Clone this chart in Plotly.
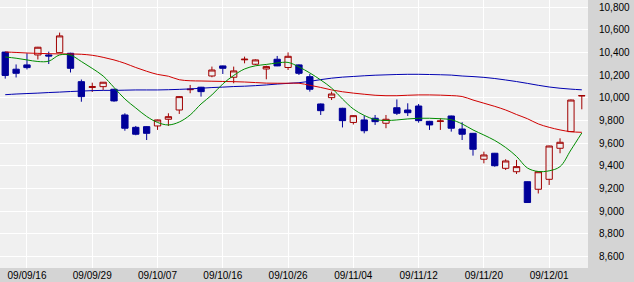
import plotly.graph_objects as go

dates = ["09/09/14","09/09/15","09/09/16","09/09/17","09/09/18","09/09/24","09/09/25","09/09/28","09/09/29","09/09/30",
         "09/10/01","09/10/02","09/10/05","09/10/06","09/10/07","09/10/08","09/10/09","09/10/13","09/10/14","09/10/15",
         "09/10/16","09/10/19","09/10/20","09/10/21","09/10/22","09/10/23","09/10/26","09/10/27","09/10/28","09/10/29",
         "09/10/30","09/11/02","09/11/04","09/11/05","09/11/06","09/11/09","09/11/10","09/11/11","09/11/12","09/11/13",
         "09/11/16","09/11/17","09/11/18","09/11/19","09/11/20","09/11/24","09/11/25","09/11/26","09/11/27","09/11/30",
         "09/12/01","09/12/02","09/12/03","09/12/04"]

opens = [10404,10253,10291,10379,10379,10399,10394,10143,10092,10099,10076,9849,9740,9746,9752,9811,9893,10072,10094,10193,
         10282,10182,10336,10297,10255,10341,10268,10291,10187,9946,10002,9908,9783,9805,9820,9776,9913,9893,9928,9793,
         9792,9840,9725,9687,9458,9511,9378,9348,9260,9193,9281,9555,9702,10017]
highs = [10408,10295,10394,10450,10408,10576,10398,10162,10134,10140,10079,9864,9752,9750,9808,9864,10015,10114,10097,10276,
         10285,10276,10364,10340,10284,10370,10401,10295,10211,9950,10055,9912,9846,9843,9849,9849,9986,9952,9946,9797,
         9820,9843,9785,9690,9525,9514,9458,9452,9262,9350,9578,9643,9985,10022]
lows = [10170,10180,10251,10339,10299,10395,10224,9966,10052,10070,9966,9710,9670,9628,9717,9752,9858,10041,10011,10182,
        10211,10129,10305,10290,10164,10280,10246,10202,10055,9849,9981,9739,9765,9687,9761,9732,9849,9840,9781,9717,
        9717,9702,9628,9490,9422,9392,9363,9328,9074,9156,9231,9511,9700,9899]
closes = [10198,10217,10267,10447,10370,10547,10261,10011,10099,10138,9973,9732,9679,9687,9805,9834,10011,10076,10055,10246,
          10261,10238,10341,10335,10276,10282,10367,10217,10076,9887,10034,9799,9843,9710,9790,9811,9864,9869,9799,9761,
          9796,9732,9679,9546,9496,9401,9443,9393,9076,9348,9575,9608,9981,10020]

ma5 = [10361,10350,10335,10321,10324,10379,10377,10321,10260,10193,10092,9990,9911,9836,9783,9761,9787,9849,9946,10026,
       10123,10198,10255,10283,10295,10308,10313,10273,10220,10158,10087,9990,9902,9845,9809,9800,9805,9814,9820,9820,
       9816,9807,9770,9717,9672,9624,9562,9483,9381,9350,9356,9393,9540,9690]
ma25 = [10405,10401,10396,10393,10390,10388,10387,10385,10376,10358,10335,10305,10268,10235,10207,10191,10160,10151,10149,10147,
        10145,10143,10140,10135,10130,10129,10129,10129,10111,10092,10070,10054,10042,10032,10023,10019,10019,10023,10026,10026,
        10024,10020,10012,9981,9953,9925,9893,9853,9816,9770,9740,9717,9701,9696]
ma75 = [10028,10034,10038,10042,10047,10051,10056,10060,10064,10066,10066,10068,10070,10070,10070,10072,10075,10079,10085,10091,
        10095,10100,10103,10108,10114,10122,10128,10134,10146,10161,10174,10183,10189,10195,10200,10203,10206,10208,10208,10206,
        10204,10201,10193,10188,10181,10171,10158,10144,10128,10111,10096,10085,10077,10071]

tick_dates = ["09/09/16","09/09/29","09/10/07","09/10/16","09/10/26","09/11/04","09/11/12","09/11/20","09/12/01"]
tick_labels = tick_dates

fig = go.Figure()
fig.add_trace(go.Scatter(x=dates, y=ma75, mode="lines", line=dict(color="#0000b0", width=1, shape="spline"), hoverinfo="skip"))
fig.add_trace(go.Scatter(x=dates, y=ma25, mode="lines", line=dict(color="#d00000", width=1, shape="spline"), hoverinfo="skip"))
fig.add_trace(go.Scatter(x=dates, y=ma5, mode="lines", line=dict(color="#008c00", width=1, shape="spline"), hoverinfo="skip"))
fig.add_trace(go.Candlestick(
    x=dates, open=opens, high=highs, low=lows, close=closes,
    increasing=dict(line=dict(color="#a00000", width=1), fillcolor="#f0f0f0"),
    decreasing=dict(line=dict(color="#000099", width=1), fillcolor="#000099"),
    whiskerwidth=0,
))

fig.update_layout(
    width=634, height=282,
    margin=dict(l=0, r=46, t=0, b=14, pad=0),
    paper_bgcolor="#d4d4d4", plot_bgcolor="#f0f0f0",
    showlegend=False, boxgap=0.17,
    font=dict(family="Liberation Sans", size=10, color="#000000"),
)
fig.update_xaxes(
    type="category", categoryorder="array", categoryarray=dates,
    range=[-0.48, 53.57], tickvals=tick_dates, ticktext=tick_labels,
    showgrid=True, gridcolor="#ffffff", gridwidth=1, ticks="",
    zeroline=False, showline=False, rangeslider=dict(visible=False),
)
fig.update_yaxes(
    side="right", range=[8498, 10864], dtick=200, tick0=0, tickformat=",d",
    showgrid=True, gridcolor="#ffffff", gridwidth=1, ticks="",
    zeroline=False, showline=False, ticklabelstandoff=10,
)

fig.write_html("out.html")
